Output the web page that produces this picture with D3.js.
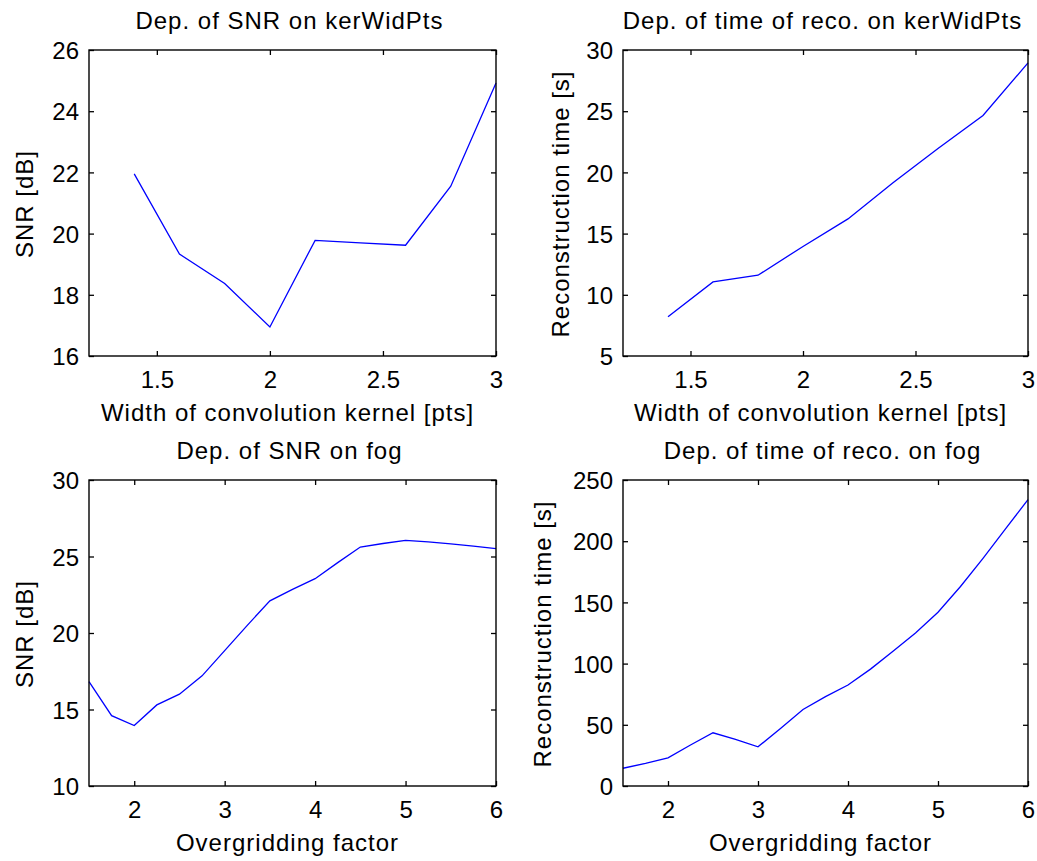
<!DOCTYPE html>
<html>
<head>
<meta charset="utf-8">
<script src="https://cdn.jsdelivr.net/npm/d3@7"></script>
<style>
  html, body { margin: 0; padding: 0; background: #fff; }
  svg { display: block; }
  text { font-family: "Liberation Sans", Arial, sans-serif; fill: #000; }
</style>
</head>
<body>
<svg id="chart" width="1037" height="861"></svg>
<script>
// ---- data ----
const kerWidPts = [1.4, 1.6, 1.8, 2.0, 2.2, 2.4, 2.6, 2.8, 3.0];
const snrVsKer = [21.95, 19.33, 18.37, 16.95, 19.78, 19.7, 19.62, 21.55, 24.92];
const timeVsKer = [8.2, 11.05, 11.6, 13.95, 16.2, 19.15, 21.95, 24.65, 28.95];

const fogValues = [1.5, 1.75, 2.0, 2.25, 2.5, 2.75, 3.0, 3.25, 3.5, 3.75, 4.0, 4.25, 4.5, 4.75, 5.0, 5.25, 5.5, 5.75, 6.0];
const snrVsFog = [16.82, 14.6, 13.95, 15.3, 16.0, 17.2, 18.85, 20.5, 22.1, 22.85, 23.55, 24.6, 25.62, 25.85, 26.05, 25.95, 25.82, 25.68, 25.52];
const timeVsFog = [14.5, 18.5, 23, 33.5, 43.5, 38, 32, 47, 62.5, 73, 82.5, 95.5, 110, 125, 142, 163, 186, 210, 234];

const kerXTicks = [1.5, 2, 2.5, 3];
const fogXTicks = [2, 3, 4, 5, 6];
const snrKerYTicks = [16, 18, 20, 22, 24, 26];
const timeKerYTicks = [5, 10, 15, 20, 25, 30];
const snrFogYTicks = [10, 15, 20, 25, 30];
const timeFogYTicks = [0, 50, 100, 150, 200, 250];

const titles = [
  "Dep. of SNR on kerWidPts",
  "Dep. of time of reco. on kerWidPts",
  "Dep. of SNR on fog",
  "Dep. of time of reco. on fog"
];
const xLabels = [
  "Width of convolution kernel [pts]",
  "Width of convolution kernel [pts]",
  "Overgridding factor",
  "Overgridding factor"
];
const yLabels = ["SNR [dB]", "Reconstruction time [s]", "SNR [dB]", "Reconstruction time [s]"];

// ---- layout ----
const panels = [
  { xs: kerWidPts, ys: snrVsKer, xDom: [1.2, 3], yDom: [16, 26], xt: kerXTicks, yt: snrKerYTicks,
    left: 89, top: 50, w: 407, h: 306, yLabX: 33 },
  { xs: kerWidPts, ys: timeVsKer, xDom: [1.2, 3], yDom: [5, 30], xt: kerXTicks, yt: timeKerYTicks,
    left: 623, top: 50, w: 405, h: 306, yLabX: 569 },
  { xs: fogValues, ys: snrVsFog, xDom: [1.5, 6], yDom: [10, 30], xt: fogXTicks, yt: snrFogYTicks,
    left: 89, top: 480, w: 407, h: 306, yLabX: 33 },
  { xs: fogValues, ys: timeVsFog, xDom: [1.5, 6], yDom: [0, 250], xt: fogXTicks, yt: timeFogYTicks,
    left: 623, top: 480, w: 405, h: 306, yLabX: 551 }
];

const svg = d3.select("#chart");
const FS = 24;
const TICK = 5;

panels.forEach((p, i) => {
  const x = d3.scaleLinear().domain(p.xDom).range([p.left, p.left + p.w]);
  const y = d3.scaleLinear().domain(p.yDom).range([p.top + p.h, p.top]);
  const g = svg.append("g");
  const fmt = d => String(d);

  // line
  const line = d3.line().x((d, k) => x(p.xs[k])).y(d => y(d));
  g.append("path")
    .datum(p.ys)
    .attr("d", line)
    .attr("fill", "none")
    .attr("stroke", "#0000ff")
    .attr("stroke-width", 1.3);

  // axes (inward ticks on all four sides)
  const styleAxis = sel => {
    sel.select(".domain").remove();
    sel.selectAll(".tick line").attr("stroke", "#000").attr("stroke-width", 1.3);
    sel.selectAll(".tick text")
      .style("font-family", '"Liberation Sans", Arial, sans-serif')
      .style("font-size", FS + "px")
      .attr("fill", "#000");
  };

  const bottom = g.append("g").attr("transform", `translate(0,${p.top + p.h})`)
    .call(d3.axisBottom(x).tickValues(p.xt).tickFormat(fmt).tickSizeInner(-TICK).tickSizeOuter(0).tickPadding(14));
  styleAxis(bottom);
  bottom.selectAll(".tick text").attr("y", 32).attr("dy", 0);

  const topAx = g.append("g").attr("transform", `translate(0,${p.top})`)
    .call(d3.axisTop(x).tickValues(p.xt).tickFormat("").tickSizeInner(-TICK).tickSizeOuter(0));
  styleAxis(topAx);

  const leftAx = g.append("g").attr("transform", `translate(${p.left},0)`)
    .call(d3.axisLeft(y).tickValues(p.yt).tickFormat(fmt).tickSizeInner(-TICK).tickSizeOuter(0));
  styleAxis(leftAx);
  leftAx.selectAll(".tick text").attr("x", -10).attr("dy", "0.36em");

  const rightAx = g.append("g").attr("transform", `translate(${p.left + p.w},0)`)
    .call(d3.axisRight(y).tickValues(p.yt).tickFormat("").tickSizeInner(-TICK).tickSizeOuter(0));
  styleAxis(rightAx);

  // box
  g.append("rect")
    .attr("x", p.left).attr("y", p.top)
    .attr("width", p.w).attr("height", p.h)
    .attr("fill", "none")
    .attr("stroke", "#000")
    .attr("stroke-width", 1.4);

  const cx = p.left + p.w / 2;

  // title
  g.append("text")
    .attr("x", cx - 3).attr("y", p.top - 21)
    .attr("text-anchor", "middle")
    .style("font-size", FS + "px")
    .style("letter-spacing", "1px")
    .text(titles[i]);

  // x label
  g.append("text")
    .attr("x", cx - 5).attr("y", p.top + p.h + 65)
    .attr("text-anchor", "middle")
    .style("font-size", FS + "px")
    .style("letter-spacing", "1px")
    .text(xLabels[i]);

  // y label
  g.append("text")
    .attr("transform", `translate(${p.yLabX},${p.top + p.h / 2 + 1}) rotate(-90)`)
    .attr("text-anchor", "middle")
    .style("font-size", FS + "px")
    .style("letter-spacing", "1px")
    .text(yLabels[i]);
});
</script>
</body>
</html>
